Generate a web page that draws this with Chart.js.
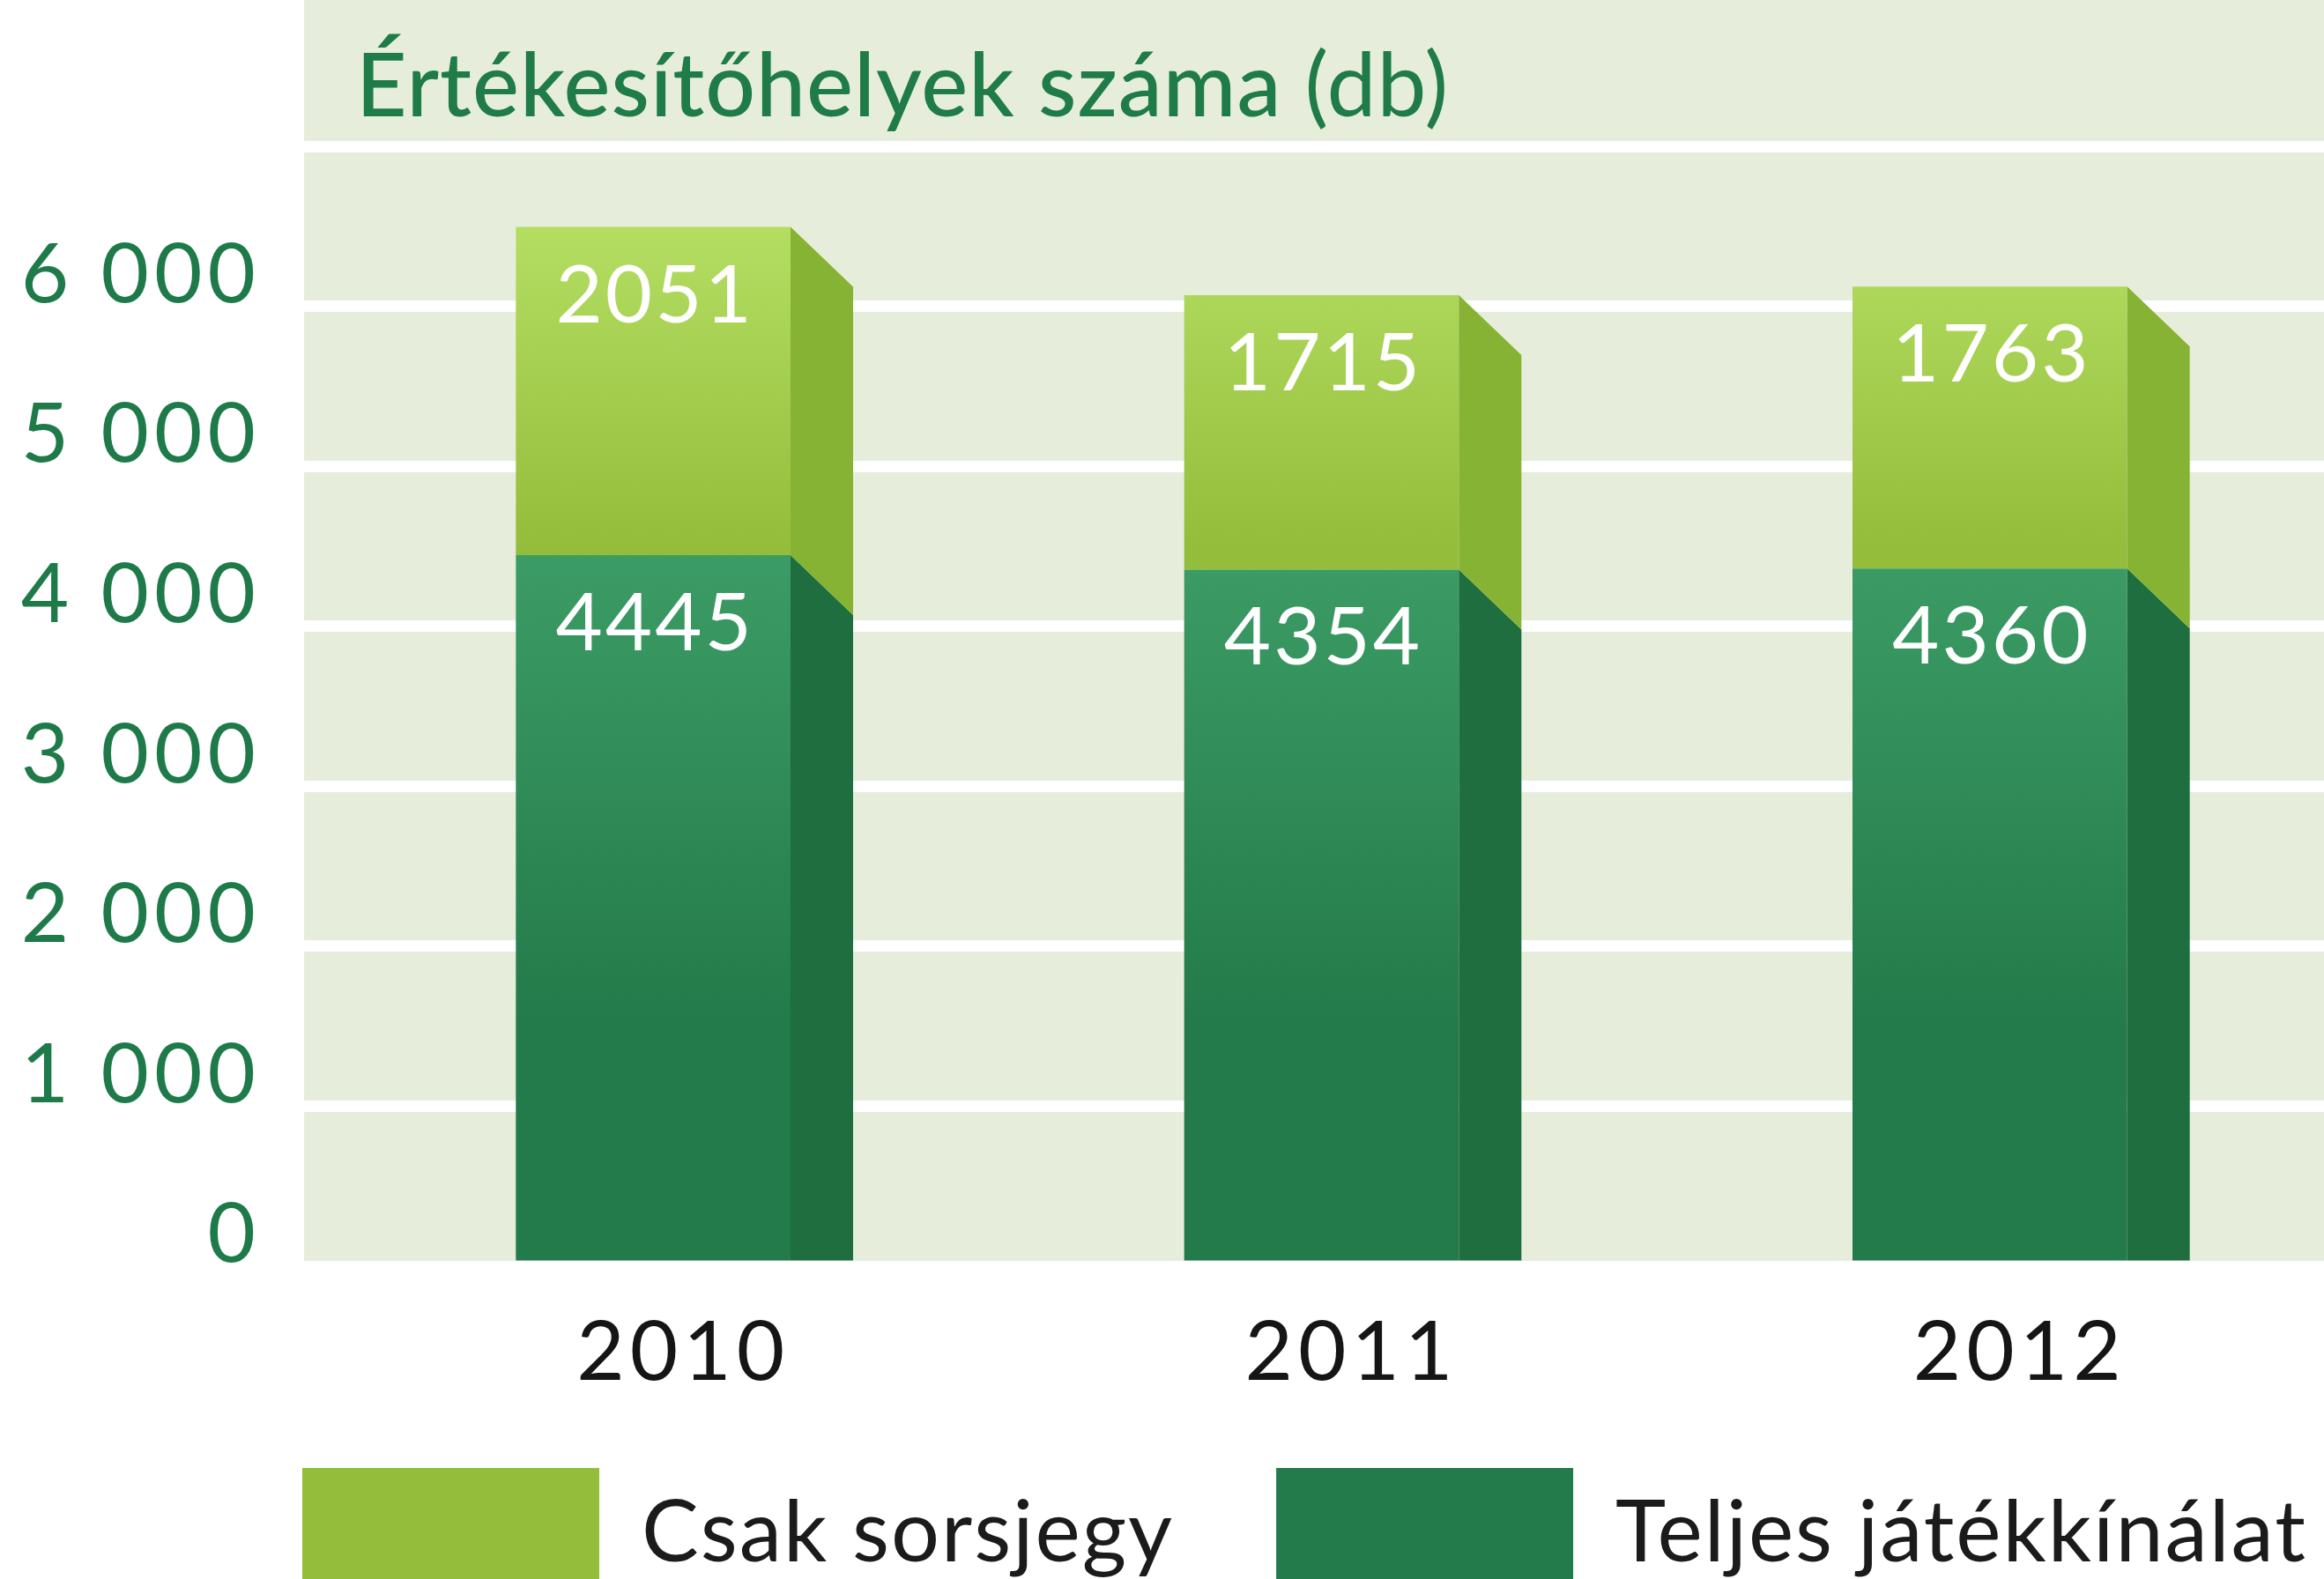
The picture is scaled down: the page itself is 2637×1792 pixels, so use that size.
<!DOCTYPE html>
<html><head><meta charset="utf-8">
<script src="https://cdn.jsdelivr.net/npm/chart.js@4/dist/chart.umd.min.js"></script>
<style>html,body{margin:0;padding:0;background:#fff;overflow:hidden}</style>
</head><body>
<canvas id="c" width="2637" height="1792"></canvas>
<script>
// ---- data ----
const chartTitle = 'Értékesítőhelyek száma';
const chartUnit = '(db)';
const categories = ['2010', '2011', '2012'];
const seriesNames = ['Csak sorsjegy', 'Teljes játékkínálat'];
const csakSorsjegy = [2051, 1715, 1763];
const teljesJatekkinalat = [4445, 4354, 4360];
const yTicks = [0, 1000, 2000, 3000, 4000, 5000, 6000, 7000];
const yTickLabels = ['0', '1 000', '2 000', '3 000', '4 000', '5 000', '6 000', ''];

// ---- style ----
const COL = {
  bg: '#e6eedb', grid: '#ffffff', title: '#1f7b47', tick: '#1f7a49', xlab: '#151515',
  legendText: '#1b1b1b', light: '#94bd3b', lightTop: '#b4de62', lightSide: '#86b334',
  dark: '#237a4a', darkTop: '#3c9c65', darkSide: '#1e6e3f', value: '#ffffff'
};
const FONT = 'Lato';
const DEPTH_X = 71, DEPTH_Y = 68;

function vGrad(chart, v0, c0, v1, c1, fallback) {
  const a = chart.chartArea;
  if (!a) return fallback;
  const y = chart.scales.y;
  const g = chart.ctx.createLinearGradient(0, y.getPixelForValue(v0), 0, y.getPixelForValue(v1));
  g.addColorStop(0, c0); g.addColorStop(1, c1);
  return g;
}

const deco = {
  id: 'deco',
  beforeDraw(chart) {
    const { ctx, chartArea: a } = chart;
    const tl = chart.options.scales.y.grid.tickLength;
    ctx.save();
    ctx.fillStyle = COL.bg;
    ctx.fillRect(a.left - tl, 0, chart.width - (a.left - tl), a.bottom);
    ctx.restore();
    ctx.letterSpacing = '6px';
  },
  afterDatasetsDraw(chart) {
    const ctx = chart.ctx;
    ctx.save();
    ctx.letterSpacing = '0px';
    const sideCols = [COL.darkSide, COL.lightSide];
    chart.data.datasets.forEach((ds, di) => {
      const meta = chart.getDatasetMeta(di);
      meta.data.forEach((bar) => {
        const p = bar.getProps(['x', 'y', 'base', 'width'], true);
        const r = p.x + p.width / 2;
        const isBottom = di === 0;
        ctx.beginPath();
        ctx.moveTo(r, p.y);
        ctx.lineTo(r + DEPTH_X, p.y + DEPTH_Y);
        if (isBottom) {
          ctx.lineTo(r + DEPTH_X, p.base);
        } else {
          ctx.lineTo(r + DEPTH_X, p.base + DEPTH_Y);
        }
        ctx.lineTo(r, p.base);
        ctx.closePath();
        ctx.fillStyle = sideCols[di];
        ctx.fill();
      });
    });
    // value labels
    ctx.fillStyle = COL.value;
    ctx.font = '400 92px ' + FONT;
    ctx.letterSpacing = '3px';
    ctx.textAlign = 'center';
    ctx.textBaseline = 'alphabetic';
    chart.data.datasets.forEach((ds, di) => {
      const meta = chart.getDatasetMeta(di);
      meta.data.forEach((bar, i) => {
        const p = bar.getProps(['x', 'y'], true);
        ctx.fillText(String(ds.data[i]), p.x + 2, p.y + 108);
      });
    });
    ctx.restore();
  },
  afterDraw(chart) {
    const { ctx, chartArea: a } = chart;
    const tl = chart.options.scales.y.grid.tickLength;
    const bgLeft = a.left - tl;
    ctx.save();
    // title
    ctx.textAlign = 'left';
    ctx.textBaseline = 'alphabetic';
    ctx.fillStyle = COL.title;
    ctx.letterSpacing = '1px';
    ctx.font = '500 100px ' + FONT;
    const tx = bgLeft + 59;
    ctx.fillText(chartTitle, tx, 132);
    const w1 = ctx.measureText(chartTitle + ' ').width;
    ctx.font = '400 100px ' + FONT;
    ctx.fillText(chartUnit, tx + w1, 132);
    // legend (top series first)
    ctx.font = '400 97px ' + FONT;
    ctx.letterSpacing = '2px';
    const order = [1, 0];
    let x = bgLeft - 2;
    const boxTop = a.bottom + 229;
    order.forEach((di) => {
      const ds = chart.data.datasets[di];
      ctx.fillStyle = ds.legendColor;
      ctx.fillRect(x, boxTop, 337, chart.height - boxTop + 10);
      ctx.fillStyle = COL.legendText;
      const textX = x + 337 + 48;
      ctx.fillText(ds.label, textX, boxTop + 106);
      x = textX + ctx.measureText(ds.label).width + 116;
    });
    ctx.restore();
  }
};

const chart = new Chart(document.getElementById('c'), {
  type: 'bar',
  data: {
    labels: categories,
    datasets: [
      {
        label: seriesNames[1], data: teljesJatekkinalat, legendColor: COL.dark,
        backgroundColor: (c) => vGrad(c.chart, 4450, COL.darkTop, 1500, COL.dark, COL.dark),
        barPercentage: 0.411, categoryPercentage: 1.0
      },
      {
        label: seriesNames[0], data: csakSorsjegy, legendColor: COL.light,
        backgroundColor: (c) => vGrad(c.chart, 6500, COL.lightTop, 4500, COL.light, COL.light),
        barPercentage: 0.411, categoryPercentage: 1.0
      }
    ]
  },
  options: {
    responsive: false, animation: false, devicePixelRatio: 1,
    layout: { padding: { top: 166, right: 0, bottom: 0, left: 0 }, autoPadding: false },
    plugins: { legend: { display: false }, title: { display: false }, tooltip: { enabled: false } },
    scales: {
      x: {
        stacked: true,
        grid: { display: false, drawTicks: false }, border: { display: false },
        ticks: { color: COL.xlab, font: { family: FONT, size: 94 }, padding: 42, labelOffset: 34 },
        afterFit: (s) => { s.height = 355; }
      },
      y: {
        stacked: true, min: 0, max: 7000,
        afterBuildTicks: (s) => { s.ticks = yTicks.map(v => ({ value: v })); },
        grid: { color: COL.grid, lineWidth: 13, tickLength: 17, drawTicks: true },
        border: { display: false },
        ticks: {
          color: COL.tick, font: { family: FONT, size: 94 }, padding: 49, labelOffset: -35,
          callback: (v) => yTickLabels[yTicks.indexOf(v)]
        },
        afterFit: (s) => { s.width = 362; }
      }
    }
  },
  plugins: [deco]
});
</script>
</body></html>
